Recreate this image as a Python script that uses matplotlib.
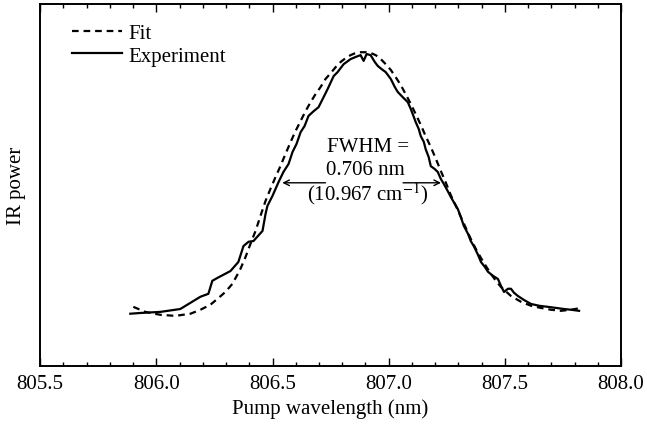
import numpy as np
import matplotlib.pyplot as plt
from matplotlib.ticker import MultipleLocator

# experiment trace (wavelength nm, normalised IR power)
exp_wl = [805.888, 805.931, 806.017, 806.103, 806.190, 806.224, 806.241, 806.263,
          806.319, 806.353, 806.375, 806.397, 806.418, 806.457, 806.470, 806.478,
          806.500, 806.526, 806.547, 806.569, 806.586, 806.603, 806.621, 806.638,
          806.655, 806.677, 806.698, 806.720, 806.737, 806.763, 806.780, 806.806,
          806.836, 806.858, 806.879, 806.892, 806.905, 806.922, 806.940, 806.953,
          806.970, 806.987, 807.009, 807.026, 807.039, 807.060, 807.082, 807.095,
          807.108, 807.116, 807.129, 807.138, 807.151, 807.159, 807.172, 807.181,
          807.198, 807.211, 807.224, 807.237, 807.254, 807.267, 807.284, 807.297,
          807.310, 807.323, 807.341, 807.353, 807.366, 807.384, 807.397, 807.414,
          807.427, 807.448, 807.470, 807.483, 807.496, 807.513, 807.526, 807.539,
          807.556, 807.582, 807.612, 807.647, 807.685, 807.720, 807.754, 807.784,
          807.819]
exp_pw = [0.144, 0.146, 0.149, 0.157, 0.191, 0.199, 0.235, 0.243,
          0.262, 0.287, 0.331, 0.343, 0.345, 0.373, 0.420, 0.442,
          0.470, 0.508, 0.536, 0.558, 0.591, 0.613, 0.646, 0.663,
          0.691, 0.704, 0.715, 0.743, 0.765, 0.801, 0.812, 0.834,
          0.848, 0.854, 0.859, 0.843, 0.862, 0.859, 0.840, 0.829,
          0.820, 0.812, 0.793, 0.771, 0.757, 0.743, 0.729, 0.710,
          0.688, 0.674, 0.655, 0.635, 0.619, 0.599, 0.577, 0.552,
          0.544, 0.536, 0.517, 0.503, 0.483, 0.467, 0.448, 0.434,
          0.412, 0.387, 0.365, 0.345, 0.331, 0.307, 0.287, 0.273,
          0.260, 0.249, 0.240, 0.221, 0.204, 0.213, 0.213, 0.202,
          0.193, 0.182, 0.171, 0.166, 0.163, 0.160, 0.157, 0.155,
          0.152]

# fitted curve
fit_wl = [805.901, 805.953, 806.017, 806.082, 806.147, 806.190, 806.233, 806.263,
          806.297, 806.328, 806.362, 806.384, 806.405, 806.427, 806.448, 806.470,
          806.491, 806.513, 806.534, 806.556, 806.578, 806.599, 806.621, 806.642,
          806.664, 806.685, 806.707, 806.728, 806.750, 806.772, 806.793, 806.815,
          806.836, 806.858, 806.879, 806.901, 806.922, 806.944, 806.966, 806.987,
          807.009, 807.030, 807.052, 807.073, 807.095, 807.116, 807.138, 807.159,
          807.181, 807.203, 807.224, 807.246, 807.267, 807.289, 807.310, 807.332,
          807.353, 807.375, 807.397, 807.418, 807.440, 807.461, 807.483, 807.526,
          807.569, 807.612, 807.655, 807.698, 807.741, 807.784, 807.828]
fit_pw = [0.163, 0.149, 0.141, 0.138, 0.144, 0.155, 0.169, 0.185,
          0.204, 0.227, 0.268, 0.301, 0.337, 0.373, 0.414, 0.456,
          0.489, 0.522, 0.552, 0.586, 0.619, 0.649, 0.677, 0.704,
          0.729, 0.751, 0.771, 0.793, 0.809, 0.826, 0.840, 0.851,
          0.859, 0.865, 0.867, 0.867, 0.865, 0.859, 0.848, 0.834,
          0.818, 0.798, 0.776, 0.751, 0.724, 0.696, 0.666, 0.635,
          0.605, 0.572, 0.539, 0.506, 0.472, 0.442, 0.412, 0.381,
          0.351, 0.323, 0.298, 0.276, 0.254, 0.235, 0.218, 0.193,
          0.177, 0.166, 0.160, 0.155, 0.152, 0.155, 0.160]

xticks = [805.5, 806.0, 806.5, 807.0, 807.5, 808.0]
fwhm_left, fwhm_right, half_max = 806.53, 807.237, 0.506

plt.rcParams['font.family'] = 'Liberation Serif'
plt.rcParams['mathtext.fontset'] = 'stix'
fs = 15

fig = plt.figure(figsize=(6.47, 4.27), dpi=100)
ax = fig.add_axes([0.062, 0.141, 0.898, 0.847])

ax.plot(fit_wl, fit_pw, 'k--', lw=1.6, dashes=(3, 2.2), label='Fit')
ax.plot(exp_wl, exp_pw, 'k-', lw=1.6, label='Experiment')

ax.set_xlim(805.5, 808.0)
ax.set_ylim(0, 1)
ax.set_xticks(xticks)
ax.set_xticklabels(['%.1f' % t for t in xticks], fontsize=fs)
ax.xaxis.set_minor_locator(MultipleLocator(0.1))
ax.tick_params(axis='x', which='major', direction='in', length=6, width=1,
               top=True, pad=6)
ax.tick_params(axis='x', which='minor', direction='in', length=3, width=1, top=True)
ax.set_yticks([])
for s in ax.spines.values():
    s.set_linewidth(1.4)

ax.set_xlabel('Pump wavelength (nm)', fontsize=fs, labelpad=4)
ax.set_ylabel('IR power', fontsize=fs, labelpad=10)

ax.legend(loc='upper left', bbox_to_anchor=(0.04, 0.97), frameon=False,
          fontsize=fs, handlelength=2.4, handletextpad=0.3, labelspacing=0.15,
          borderaxespad=0)

ax.text(806.91, 0.606, 'FWHM =', fontsize=fs, ha='center', va='center')
ax.text(806.90, 0.542, '0.706 nm', fontsize=fs, ha='center', va='center')
ax.text(806.91, 0.478, '(10.967 cm$^{-1}$)', fontsize=fs, ha='center', va='center')

arrow = dict(arrowstyle='->', color='k', lw=1.0)
ax.annotate('', xy=(fwhm_left, half_max), xytext=(806.74, half_max), arrowprops=arrow)
ax.annotate('', xy=(fwhm_right, half_max), xytext=(807.05, half_max), arrowprops=arrow)

fig.savefig('out.png', dpi=100)
